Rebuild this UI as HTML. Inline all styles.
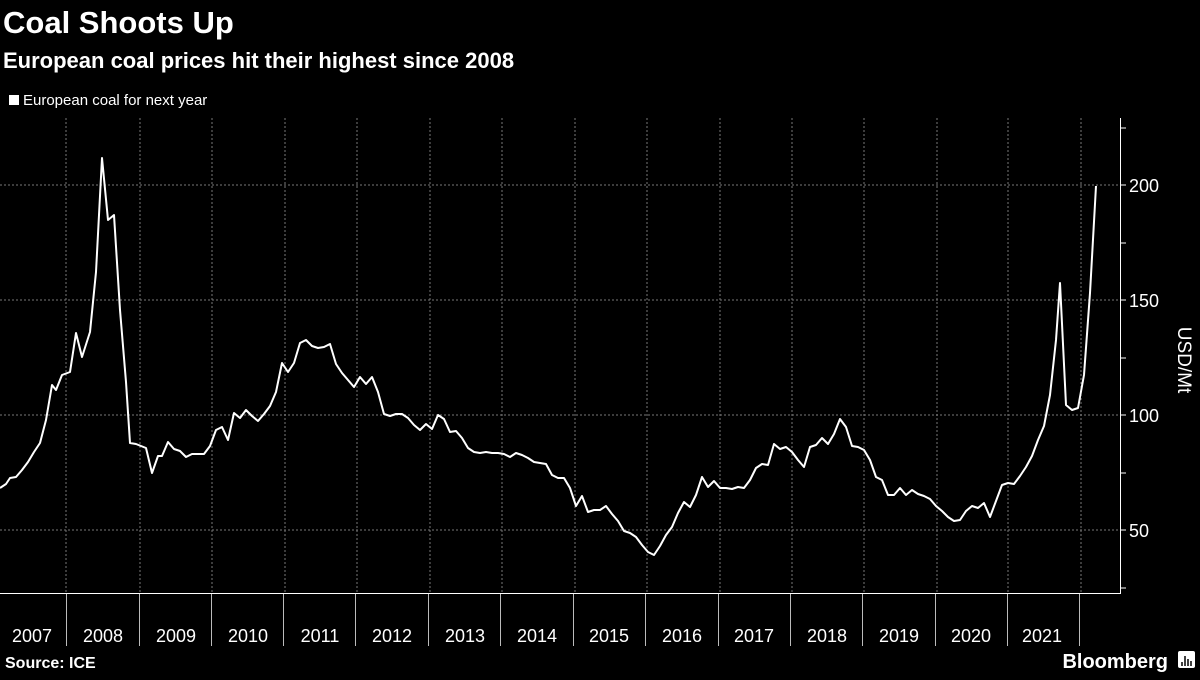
<!DOCTYPE html>
<html><head><meta charset="utf-8"><style>
body{margin:0;background:#000;width:1200px;height:675px;overflow:hidden;font-family:"Liberation Sans",sans-serif;color:#fff}
</style></head><body>
<svg width="1200" height="675" xmlns="http://www.w3.org/2000/svg" font-family="Liberation Sans, sans-serif">
<rect width="1200" height="675" fill="#000"/>
<text x="3" y="33" font-size="31" font-weight="bold" fill="#fff">Coal Shoots Up</text>
<text x="3" y="68" font-size="22" font-weight="bold" fill="#fff">European coal prices hit their highest since 2008</text>
<rect x="9" y="95" width="10" height="10" fill="#fff"/>
<text x="23" y="105" font-size="15" fill="#fff">European coal for next year</text>
<g stroke="#777" stroke-dasharray="2,2" stroke-width="1">
<line x1="0" x2="1120" y1="185" y2="185"/><line x1="0" x2="1120" y1="300" y2="300"/>
<line x1="0" x2="1120" y1="415" y2="415"/><line x1="0" x2="1120" y1="530" y2="530"/>
<line x1="66" x2="66" y1="118" y2="593"/><line x1="140" x2="140" y1="118" y2="593"/>
<line x1="212" x2="212" y1="118" y2="593"/><line x1="285" x2="285" y1="118" y2="593"/>
<line x1="357" x2="357" y1="118" y2="593"/><line x1="430" x2="430" y1="118" y2="593"/>
<line x1="502" x2="502" y1="118" y2="593"/><line x1="575" x2="575" y1="118" y2="593"/>
<line x1="647" x2="647" y1="118" y2="593"/><line x1="720" x2="720" y1="118" y2="593"/>
<line x1="792" x2="792" y1="118" y2="593"/><line x1="864" x2="864" y1="118" y2="593"/>
<line x1="937" x2="937" y1="118" y2="593"/><line x1="1008" x2="1008" y1="118" y2="593"/>
<line x1="1081" x2="1081" y1="118" y2="593"/>
</g>
<g stroke="#fff" stroke-width="1">
<line x1="0" x2="1121" y1="593.5" y2="593.5"/>
<line x1="1120.5" x2="1120.5" y1="118" y2="594"/>
<line x1="1120" x2="1126" y1="128" y2="128"/><line x1="1120" x2="1126" y1="185" y2="185"/>
<line x1="1120" x2="1126" y1="243" y2="243"/><line x1="1120" x2="1126" y1="300" y2="300"/>
<line x1="1120" x2="1126" y1="358" y2="358"/><line x1="1120" x2="1126" y1="415" y2="415"/>
<line x1="1120" x2="1126" y1="473" y2="473"/><line x1="1120" x2="1126" y1="530" y2="530"/>
<line x1="1120" x2="1126" y1="588" y2="588"/>
</g>
<g stroke="#bbb" stroke-width="1">
<line x1="66.5" x2="66.5" y1="594" y2="646"/><line x1="139.5" x2="139.5" y1="594" y2="646"/>
<line x1="211.5" x2="211.5" y1="594" y2="646"/><line x1="283.5" x2="283.5" y1="594" y2="646"/>
<line x1="355.5" x2="355.5" y1="594" y2="646"/><line x1="428.5" x2="428.5" y1="594" y2="646"/>
<line x1="500.5" x2="500.5" y1="594" y2="646"/><line x1="573.5" x2="573.5" y1="594" y2="646"/>
<line x1="645.5" x2="645.5" y1="594" y2="646"/><line x1="718.5" x2="718.5" y1="594" y2="646"/>
<line x1="790.5" x2="790.5" y1="594" y2="646"/><line x1="862.5" x2="862.5" y1="594" y2="646"/>
<line x1="935.5" x2="935.5" y1="594" y2="646"/><line x1="1007.5" x2="1007.5" y1="594" y2="646"/>
<line x1="1079.5" x2="1079.5" y1="594" y2="646"/>
</g>
<g font-size="18" fill="#fff" text-anchor="middle">
<text x="32" y="642">2007</text><text x="103" y="642">2008</text><text x="176" y="642">2009</text>
<text x="248" y="642">2010</text><text x="320" y="642">2011</text><text x="392" y="642">2012</text>
<text x="465" y="642">2013</text><text x="537" y="642">2014</text><text x="609" y="642">2015</text>
<text x="682" y="642">2016</text><text x="754" y="642">2017</text><text x="827" y="642">2018</text>
<text x="899" y="642">2019</text><text x="971" y="642">2020</text><text x="1042" y="642">2021</text>
</g>
<g font-size="18" fill="#fff">
<text x="1129" y="192">200</text><text x="1129" y="307">150</text>
<text x="1129" y="422">100</text><text x="1129" y="537">50</text>
</g>
<text transform="translate(1178,360) rotate(90)" font-size="19" fill="#fff" text-anchor="middle">USD/Mt</text>
<text x="5" y="668" font-size="16" font-weight="bold" fill="#fff">Source: ICE</text>
<text x="1168" y="668" font-size="20" font-weight="bold" fill="#fff" text-anchor="end">Bloomberg</text>
<rect x="1178" y="651" width="17" height="17" rx="2" fill="#fff"/>
<g stroke="#000" stroke-width="1.5"><line x1="1182" x2="1182" y1="662" y2="666"/><line x1="1185" x2="1185" y1="656" y2="666"/><line x1="1188" x2="1188" y1="659" y2="666"/><line x1="1191" x2="1191" y1="661" y2="666"/></g>
<polyline fill="none" stroke="#fff" stroke-width="2" stroke-linejoin="round" points="0,488 6,484 10,478 16,477 22,470 28,462 34,452 40,443 46,420 52,385 56,390 62,375 70,372 76,333 82,357 90,332 96,272 102,158 108,220 114,215 120,310 126,382 130,443 136,444 146,448 152,473 158,456 162,456 168,442 174,449 180,451 186,457 192,454 204,454 210,446 216,430 222,427 228,440 234,413 240,418 246,410 252,416 258,421 264,414 270,406 276,392 282,363 288,372 294,363 300,343 306,340 312,346 318,348 324,347 330,344 336,364 342,373 348,380 354,387 360,377 366,384 372,377 378,392 384,414 390,416 396,414 402,414 408,418 414,425 420,430 426,424 432,429 438,415 444,419 450,432 456,431 462,438 468,448 474,452 480,453 486,452 492,453 498,453 504,454 510,457 516,453 522,455 528,458 534,462 540,463 546,464 552,475 558,478 564,478 570,488 576,506 582,496 588,512 594,510 600,510 606,506 612,514 618,521 624,531 630,533 636,537 642,545 648,552 654,555 660,546 666,535 672,527 678,513 684,502 690,507 696,495 702,477 708,487 714,481 720,488 726,488 732,489 738,487 744,488 750,480 756,468 762,464 768,465 774,444 780,449 786,447 792,452 798,460 804,467 810,447 816,445 822,438 828,444 834,434 840,419 846,427 852,446 858,447 864,450 870,460 876,477 882,480 888,495 894,495 900,488 906,495 912,490 918,494 924,496 930,499 936,506 942,511 948,517 954,521 960,520 966,511 972,506 978,508 984,503 990,517 996,501 1002,485 1008,483 1014,484 1020,476 1026,467 1032,456 1038,440 1044,426 1050,395 1056,340 1060,283 1066,405 1072,410 1078,408 1084,375 1090,293 1096,186"/>
</svg>
</body></html>
